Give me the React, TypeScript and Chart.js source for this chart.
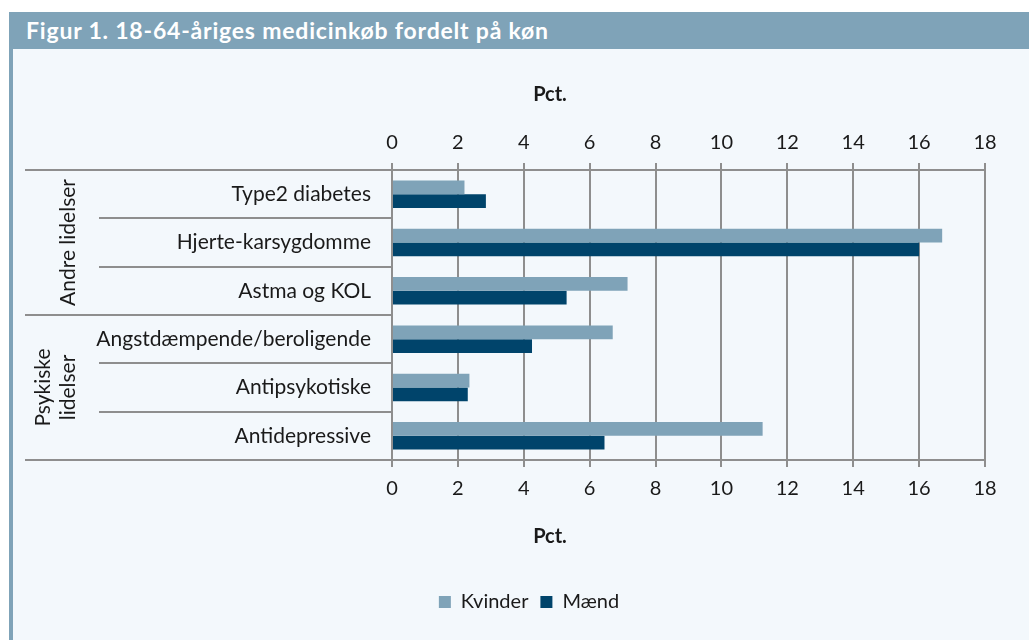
import React, { useEffect, useRef } from 'react';
import { Chart, registerables } from 'chart.js';

Chart.register(...registerables);

// ---- data ----
const chartTitle = 'Figur 1. 18-64-åriges medicinkøb fordelt på køn';
const axisTitle = 'Pct.';
const categories = [
  'Type2 diabetes',
  'Hjerte-karsygdomme',
  'Astma og KOL',
  'Angstdæmpende/beroligende',
  'Antipsykotiske',
  'Antidepressive',
];
const seriesNames = ['Kvinder', 'Mænd'];
const kvinder = [2.2, 16.7, 7.15, 6.7, 2.35, 11.25];
const maend = [2.85, 16.0, 5.3, 4.25, 2.3, 6.45];
const groupLabels = [['Andre lidelser'], ['Psykiske', 'lidelser']];
const groupSizes = [3, 3];
const xMin = 0;
const xMax = 18;
const xStep = 2;

// ---- styles ----
const PANEL = '#f3f8fc';
const STEEL = '#7fa3b8';
const NAVY = '#00446b';
const GRID = '#8e8e8e';
const TEXT = '#1a1a1a';
const FONT = 'Lato';

const hierarchyPlugin = {
  id: 'hierarchy',
  afterDraw(chart: any) {
    const { ctx } = chart;
    const y = chart.scales.y;
    const x = chart.scales.x;
    const axisX = x.left;
    const n = categories.length;
    const groupEdges: number[] = [0];
    let acc = 0;
    groupSizes.forEach((s) => {
      acc += s;
      groupEdges.push(acc);
    });
    ctx.save();
    ctx.strokeStyle = GRID;
    ctx.lineWidth = 2;
    for (let i = 0; i <= n; i++) {
      const py = Math.round(y.getPixelForValue(i - 0.5));
      const isEdge = groupEdges.includes(i);
      ctx.beginPath();
      ctx.moveTo(isEdge ? 12 : 86, py);
      ctx.lineTo(axisX, py);
      ctx.stroke();
    }
    // group labels (rotated)
    ctx.fillStyle = TEXT;
    ctx.font = `21px ${FONT}`;
    ctx.textAlign = 'center';
    ctx.textBaseline = 'alphabetic';
    let start = 0;
    groupSizes.forEach((s, gi) => {
      const top = y.getPixelForValue(start - 0.5);
      const bottom = y.getPixelForValue(start + s - 0.5);
      const cy = (top + bottom) / 2;
      const lines = groupLabels[gi];
      const lastBaseline = 62;
      lines.forEach((line, li) => {
        const bx = lastBaseline - (lines.length - 1 - li) * 25;
        ctx.save();
        ctx.translate(bx, cy);
        ctx.rotate(-Math.PI / 2);
        ctx.fillText(line, 0, 0);
        ctx.restore();
      });
      start += s;
    });
    // axis titles
    ctx.font = `bold 20px ${FONT}`;
    ctx.textBaseline = 'middle';
    const titleX = 537;
    ctx.fillText(axisTitle, titleX, chart.scales.x2.top + 46);
    ctx.fillText(axisTitle, titleX, x.bottom - 43);
    ctx.restore();
  },
};

export default function App() {
  const ref = useRef<HTMLCanvasElement>(null);

  useEffect(() => {
    if (!ref.current) return;
    const tickFont = { family: FONT, size: 20 };
    const chart = new Chart(ref.current, {
      type: 'bar',
      data: {
        labels: categories,
        datasets: [
          {
            label: seriesNames[0],
            data: kvinder,
            backgroundColor: STEEL,
            xAxisID: 'x',
            categoryPercentage: 0.57,
            barPercentage: 1,
          },
          {
            label: seriesNames[1],
            data: maend,
            backgroundColor: NAVY,
            xAxisID: 'x',
            categoryPercentage: 0.57,
            barPercentage: 1,
          },
        ],
      },
      options: {
        indexAxis: 'y',
        animation: false,
        responsive: false,
        layout: { padding: { top: 0, left: 60, right: 44, bottom: 18 } },
        scales: {
          x: {
            position: 'bottom',
            min: xMin,
            max: xMax,
            ticks: { stepSize: xStep, font: tickFont, color: TEXT, padding: 10 },
            grid: { color: GRID, lineWidth: 2, tickLength: 7 },
            border: { color: GRID, width: 2 },
            afterFit: (s: any) => {
              s.height = 120;
            },
          },
          x2: {
            position: 'top',
            min: xMin,
            max: xMax,
            ticks: { stepSize: xStep, font: tickFont, color: TEXT, padding: 8 },
            grid: { color: GRID, lineWidth: 2, tickLength: 7, drawOnChartArea: false },
            border: { color: GRID, width: 2 },
            afterFit: (s: any) => {
              s.height = 121;
            },
          },
          y: {
            ticks: { font: { family: FONT, size: 21 }, color: TEXT, padding: 13 },
            grid: { display: false },
            border: { display: false },
            afterFit: (s: any) => {
              s.width = 319;
            },
          },
        },
        plugins: {
          legend: {
            position: 'bottom',
            labels: {
              boxWidth: 12,
              boxHeight: 12,
              padding: 12,
              color: TEXT,
              font: { family: FONT, size: 20 },
            },
          },
          tooltip: { enabled: false },
        },
      },
      plugins: [hierarchyPlugin],
    } as any);
    return () => chart.destroy();
  }, []);

  return (
    <div
      style={{
        position: 'fixed',
        left: 0,
        top: 0,
        width: 1029,
        height: 640,
        background: '#ffffff',
        overflow: 'hidden',
      }}
    >
      <div
        style={{
          position: 'absolute',
          left: 9,
          top: 12,
          width: 1020,
          height: 37,
          background: STEEL,
          color: '#ffffff',
          fontFamily: FONT,
          fontWeight: 700,
          fontSize: 23,
          letterSpacing: '0.8px',
          lineHeight: '37px',
          paddingLeft: 17,
          boxSizing: 'border-box',
          whiteSpace: 'nowrap',
        }}
      >
        {chartTitle}
      </div>
      <div
        style={{
          position: 'absolute',
          left: 9,
          top: 49,
          width: 1020,
          height: 591,
          background: PANEL,
          borderLeft: `4px solid ${STEEL}`,
          boxSizing: 'border-box',
        }}
      >
        <canvas ref={ref} width={1016} height={591} style={{ display: 'block' }} />
      </div>
    </div>
  );
}
